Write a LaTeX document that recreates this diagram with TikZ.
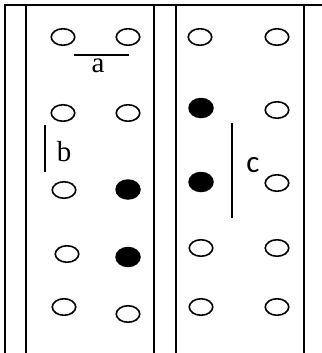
\documentclass[tikz,border=0pt]{standalone}
\usepackage{fontspec}
\setmainfont{Liberation Serif}
\newfontfamily\cfont{Carlito}
\usetikzlibrary{shapes.geometric}
\tikzset{
  hole/.style={draw=black, line width=1.6pt, ellipse, inner sep=0pt, minimum width=23.5pt, minimum height=16.5pt},
  ion/.style={fill=black, draw=none, ellipse, inner sep=0pt, minimum width=25.5pt, minimum height=20.5pt},
  wall/.style={line width=1.4pt, line cap=rect},
  mark line/.style={line width=1.4pt},
  lab/.style={inner sep=0pt, anchor=base, font=\fontsize{29}{29}\selectfont},
}
\begin{document}
\begin{tikzpicture}[x=1pt,y=-1pt]
\useasboundingbox (0,0) rectangle (321,353);
% frame
\coordinate (tl) at (5,5);
\coordinate (tr) at (321,5);
\draw[wall] (tl) -- (tr);
\foreach \x/\n in {5/w1,26/w2,154/w3,176/w4,304/w5}{
  \coordinate (\n t) at (\x,5);
  \coordinate (\n b) at (\x,353);
  \draw[wall] (\n t) -- (\n b);
}
% left panel
\node[hole] (l11) at (63,37) {};
\node[hole] (l12) at (128,37) {};
\node[hole] (l21) at (63,113) {};
\node[hole] (l22) at (128,113) {};
\node[hole] (l31) at (64,190) {};
\node[ion]  (l32) at (128,189.5) {};
\node[hole] (l41) at (67,254) {};
\node[ion]  (l42) at (128,257) {};
\node[hole] (l51) at (64,307) {};
\node[hole] (l52) at (128,314) {};
% right panel
\node[hole] (r11) at (200,37) {};
\node[hole] (r12) at (277,37) {};
\node[ion]  (r21) at (201,108) {};
\node[hole] (r22) at (277,110) {};
\node[ion]  (r31) at (201,182) {};
\node[hole] (r32) at (277,183) {};
\node[hole] (r41) at (201,248) {};
\node[hole] (r42) at (277,248) {};
\node[hole] (r51) at (201,307) {};
\node[hole] (r52) at (277,307) {};
% marks
\coordinate (a1) at (74,55);
\coordinate (a2) at (129,55);
\draw[mark line] (a1) -- (a2);
\node[lab] (la) at (98,73) {a};
\coordinate (b1) at (45,125);
\coordinate (b2) at (45,172);
\draw[mark line] (b1) -- (b2);
\node[lab] (lb) at (64,161) {b};
\coordinate (c1) at (232,123);
\coordinate (c2) at (232,218);
\draw[mark line] (c1) -- (c2);
\node[lab, font=\cfont\fontsize{31}{31}\selectfont] (lc) at (253,172) {c};
\end{tikzpicture}
\end{document}
